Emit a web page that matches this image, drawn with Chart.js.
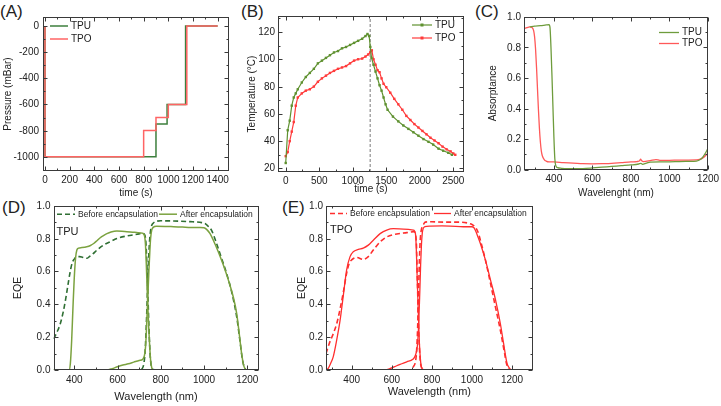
<!DOCTYPE html>
<html>
<head>
<meta charset="utf-8">
<script src="https://cdn.jsdelivr.net/npm/chart.js@4.4.0/dist/chart.umd.min.js"></script>
<style>
  html, body { margin: 0; padding: 0; background: #fff; }
  body { width: 721px; height: 406px; position: relative; overflow: hidden; font-family: "Liberation Sans", Arial, sans-serif; }
  canvas { position: absolute; }
  .tag { position: absolute; font-size: 17px; line-height: 17px; color: #222; }
  .ylab { position: absolute; font-size: 10px; line-height: 12px; color: #222; white-space: nowrap; transform: translate(-100%, -50%); z-index: 5; }
</style>
</head>
<body>
<div class="tag" style="left:0px;top:3px">(A)</div>
<div class="tag" style="left:241px;top:3px">(B)</div>
<div class="tag" style="left:475px;top:3px">(C)</div>
<div class="tag" style="left:2px;top:199px">(D)</div>
<div class="tag" style="left:282px;top:199px">(E)</div>
<canvas id="chartA"></canvas>
<canvas id="chartB"></canvas>
<canvas id="chartC"></canvas>
<canvas id="chartD"></canvas>
<canvas id="chartE"></canvas>
<script>
// (A) pressure steps, value holds until next time
const tpuStepTime = [0, 0, 900, 990, 1140, 1400];
const tpuPressure = [0, -1000, -750, -600, 0, 0];
const tpoStepTime = [0, 0, 800, 900, 1000, 1150, 1400];
const tpoPressure = [0, -1000, -800, -700, -600, 0, 0];
const pressureTicks = [-1000, -800, -600, -400, -200, 0];
const timeTicksA = [0, 200, 400, 600, 800, 1000, 1200, 1400];

// (B) temperature
const tpuTime = [0, 30, 60, 90, 120, 150, 180, 240, 300, 360, 420, 480, 540, 600, 660, 720, 780, 840, 900, 960, 1020, 1080, 1140, 1190, 1220, 1245, 1262, 1280, 1310, 1340, 1370, 1400, 1430, 1460, 1490, 1520, 1600, 1680, 1755, 1830, 1905, 1980, 2055, 2130, 2200, 2280, 2350, 2425, 2480];
const tpuTemp = [24, 48, 55, 66, 72, 75, 78, 83, 87, 90, 93, 97, 99, 101, 103, 105, 106, 108, 109, 110.5, 112, 113.5, 115, 117, 118.5, 117, 109, 101, 96, 91, 86, 81, 77, 72, 67, 63, 58, 54.5, 51.5, 49, 46.5, 44, 41.5, 39.5, 37.5, 34.5, 33, 31.5, 30];
const tpoTime = [0, 30, 60, 90, 120, 150, 180, 240, 300, 360, 420, 480, 540, 600, 660, 720, 780, 840, 900, 960, 1020, 1080, 1140, 1190, 1230, 1260, 1285, 1310, 1340, 1370, 1400, 1430, 1460, 1500, 1560, 1620, 1680, 1740, 1800, 1860, 1920, 1980, 2040, 2100, 2160, 2220, 2280, 2340, 2400, 2460, 2500, 2530];
const tpoTemp = [29, 32, 40, 47, 54, 66, 72, 75, 77, 78, 80, 83.5, 86, 88, 90, 91.5, 93, 94, 95, 97, 99, 100, 100.5, 102, 103.5, 105, 106.5, 100, 96, 92, 90.5, 86, 82, 79.5, 75.5, 71, 67, 63, 58.5, 55.5, 52.5, 50, 47.5, 45, 42.5, 40.5, 38.5, 36, 34, 32.5, 31, 30];
const heatingEnd = 1260;
const tempTicks = [20, 40, 60, 80, 100, 120];
const timeTicksB = [0, 500, 1000, 1500, 2000, 2500];

// (C) absorptance
const tpuAbsWl = [275, 300, 330, 360, 375, 380, 385, 390, 395, 400, 405, 410, 420, 440, 470, 500, 550, 600, 650, 700, 750, 800, 840, 852, 860, 880, 900, 950, 1000, 1050, 1100, 1140, 1160, 1175, 1190, 1200];
const tpuAbs = [0.935, 0.94, 0.943, 0.948, 0.95, 0.93, 0.8, 0.62, 0.42, 0.22, 0.07, 0.025, 0.012, 0.008, 0.005, 0.005, 0.006, 0.01, 0.015, 0.02, 0.025, 0.03, 0.036, 0.04, 0.034, 0.042, 0.048, 0.05, 0.05, 0.052, 0.053, 0.055, 0.065, 0.085, 0.115, 0.14];
const tpoAbsWl = [245, 260, 275, 288, 295, 300, 305, 310, 315, 320, 325, 330, 335, 340, 350, 360, 375, 400, 450, 500, 550, 600, 650, 700, 750, 800, 830, 845, 850, 856, 865, 900, 930, 950, 1000, 1050, 1100, 1140, 1160, 1175, 1190, 1200];
const tpoAbs = [0.925, 0.93, 0.935, 0.93, 0.91, 0.87, 0.79, 0.67, 0.53, 0.39, 0.27, 0.18, 0.12, 0.09, 0.065, 0.055, 0.05, 0.05, 0.045, 0.042, 0.038, 0.037, 0.038, 0.04, 0.045, 0.05, 0.052, 0.057, 0.068, 0.058, 0.052, 0.058, 0.065, 0.06, 0.06, 0.062, 0.062, 0.063, 0.068, 0.078, 0.095, 0.108];
const unitTicks = [0, 0.2, 0.4, 0.6, 0.8, 1.0];
const wlTicks = [400, 600, 800, 1000, 1200];

// (D) TPU EQE, top and bottom subcells
const dBeforeTopWl = [305, 320, 335, 350, 360, 370, 380, 390, 400, 412, 425, 440, 458, 470, 485, 505, 535, 565, 597, 640, 690, 715, 725, 731, 736, 741, 746, 751, 757, 765, 780, 1200];
const dBeforeTop = [0.19, 0.23, 0.28, 0.36, 0.43, 0.51, 0.59, 0.65, 0.675, 0.69, 0.69, 0.685, 0.68, 0.69, 0.705, 0.73, 0.76, 0.78, 0.8, 0.815, 0.826, 0.832, 0.825, 0.78, 0.64, 0.44, 0.24, 0.09, 0.02, 0.003, 0, 0];
const dAfterTopWl = [305, 376, 382, 388, 394, 400, 406, 412, 420, 435, 458, 475, 490, 505, 520, 535, 551, 570, 597, 620, 643, 670, 695, 715, 724, 729, 733, 737, 741, 745, 749, 753, 758, 766, 800, 1200];
const dAfterTop = [0, 0, 0.04, 0.18, 0.38, 0.56, 0.68, 0.73, 0.742, 0.745, 0.75, 0.758, 0.77, 0.787, 0.805, 0.818, 0.83, 0.84, 0.846, 0.845, 0.842, 0.839, 0.836, 0.833, 0.82, 0.77, 0.65, 0.5, 0.36, 0.24, 0.14, 0.06, 0.015, 0, 0, 0];
const dBeforeBotWl = [305, 700, 715, 722, 727, 731, 735, 739, 743, 747, 752, 758, 766, 780, 800, 860, 935, 990, 1005, 1015, 1035, 1058, 1081, 1104, 1127, 1151, 1166, 1178, 1189, 1197, 1205];
const dBeforeBot = [0, 0, 0.01, 0.04, 0.1, 0.2, 0.34, 0.5, 0.65, 0.76, 0.84, 0.88, 0.895, 0.905, 0.908, 0.907, 0.903, 0.897, 0.892, 0.88, 0.85, 0.77, 0.68, 0.59, 0.48, 0.325, 0.18, 0.06, 0.01, 0, 0];
const dAfterBotWl = [305, 550, 575, 600, 625, 650, 675, 700, 717, 724, 729, 733, 737, 741, 745, 749, 753, 758, 765, 780, 820, 860, 900, 940, 980, 1000, 1012, 1028, 1043, 1066, 1089, 1112, 1135, 1151, 1163, 1174, 1184, 1192, 1200];
const dAfterBot = [0, 0, 0.008, 0.02, 0.03, 0.038, 0.048, 0.058, 0.066, 0.085, 0.13, 0.22, 0.35, 0.47, 0.6, 0.71, 0.8, 0.85, 0.868, 0.875, 0.874, 0.872, 0.87, 0.868, 0.867, 0.866, 0.856, 0.83, 0.79, 0.72, 0.64, 0.55, 0.446, 0.345, 0.22, 0.1, 0.025, 0.005, 0];

// (E) TPO EQE
const eBeforeTopWl = [272, 288, 308, 325, 342, 358, 375, 388, 400, 425, 458, 483, 508, 542, 575, 625, 675, 712, 722, 728, 735, 742, 750, 760, 800, 1200];
const eBeforeTop = [0.1, 0.16, 0.22, 0.28, 0.37, 0.47, 0.59, 0.65, 0.67, 0.685, 0.673, 0.69, 0.73, 0.78, 0.81, 0.828, 0.836, 0.842, 0.79, 0.53, 0.22, 0.06, 0.01, 0, 0, 0];
const eAfterTopWl = [272, 283, 295, 308, 325, 342, 358, 375, 392, 408, 433, 458, 483, 508, 542, 575, 608, 658, 708, 718, 722, 725, 729, 732, 735, 738, 742, 746, 752, 762, 800, 1200];
const eAfterTop = [0, 0.01, 0.04, 0.08, 0.18, 0.3, 0.45, 0.61, 0.69, 0.72, 0.734, 0.742, 0.76, 0.79, 0.83, 0.852, 0.86, 0.858, 0.852, 0.83, 0.75, 0.63, 0.48, 0.365, 0.26, 0.16, 0.08, 0.03, 0.008, 0, 0, 0];
const eBeforeBotWl = [272, 690, 708, 718, 723, 728, 732, 735, 738, 742, 747, 752, 760, 767, 800, 858, 942, 992, 1005, 1017, 1030, 1042, 1067, 1092, 1117, 1142, 1163, 1172, 1180, 1192];
const eBeforeBot = [0, 0, 0.02, 0.05, 0.1, 0.22, 0.38, 0.53, 0.67, 0.79, 0.85, 0.872, 0.89, 0.9, 0.902, 0.9, 0.9, 0.89, 0.882, 0.87, 0.84, 0.79, 0.67, 0.53, 0.385, 0.24, 0.1, 0.04, 0.01, 0];
const eAfterBotWl = [272, 560, 590, 625, 650, 675, 705, 718, 728, 735, 740, 744, 748, 752, 757, 765, 792, 850, 892, 958, 1000, 1010, 1017, 1030, 1042, 1067, 1092, 1117, 1142, 1158, 1175, 1185, 1192, 1208];
const eAfterBot = [0, 0, 0.008, 0.026, 0.038, 0.05, 0.065, 0.09, 0.15, 0.3, 0.48, 0.64, 0.76, 0.83, 0.862, 0.872, 0.876, 0.877, 0.876, 0.872, 0.872, 0.866, 0.85, 0.81, 0.77, 0.67, 0.55, 0.43, 0.28, 0.16, 0.04, 0.015, 0.005, 0];

const FONT = '"Liberation Sans", Arial, Helvetica, sans-serif';
Chart.defaults.font.family = FONT;
Chart.defaults.color = '#222';

function pts(xs, ys) {
    return xs.map((x, i) => ({ x: x, y: ys[i] }));
}

// box around the plot plus inward major/minor ticks on all four sides
const frameTicks = {
    id: 'frameTicks',
    afterDraw(chart) {
        const { ctx, chartArea: a, scales } = chart;
        const L = Math.round(a.left) + 0.5, R = Math.round(a.right) - 0.5;
        const T = Math.round(a.top) + 0.5, B = Math.round(a.bottom) - 0.5;
        ctx.save();
        ctx.strokeStyle = '#3a3a3a';
        ctx.lineWidth = 1;
        ctx.strokeRect(L, T, R - L, B - T);
        ctx.beginPath();
        ['x', 'y'].forEach(id => {
            const s = scales[id];
            const majors = s.ticks.map(t => t.value);
            const step = majors[1] - majors[0];
            const minors = [majors[0] - step / 2].concat(majors.map(v => v + step / 2))
                .filter(v => v >= s.min && v <= s.max);
            [[majors, 4], [minors, 2]].forEach(([vals, len]) => {
                vals.forEach(v => {
                    const p = Math.round(s.getPixelForValue(v)) + 0.5;
                    if (id === 'x') {
                        ctx.moveTo(p, B); ctx.lineTo(p, B - len);
                        ctx.moveTo(p, T); ctx.lineTo(p, T + len);
                    } else {
                        ctx.moveTo(L, p); ctx.lineTo(L + len, p);
                        ctx.moveTo(R, p); ctx.lineTo(R - len, p);
                    }
                });
            });
        });
        ctx.stroke();
        ctx.restore();
    }
};

// legend drawn inside the plot like the original
const panelLegend = {
    id: 'panelLegend',
    afterDraw(chart, args, o) {
        if (!o || !o.items) return;
        const { ctx, chartArea: a } = chart;
        ctx.save();
        ctx.textBaseline = 'middle';
        ctx.textAlign = 'left';
        ctx.font = o.size + 'px ' + FONT;
        o.items.forEach(it => {
            const ds = chart.data.datasets[it.ds];
            const x0 = a.left + it.x, y0 = a.top + it.y;
            ctx.strokeStyle = ds.borderColor;
            ctx.lineWidth = ds.borderWidth;
            ctx.setLineDash(ds.borderDash || []);
            ctx.beginPath();
            ctx.moveTo(x0, y0);
            ctx.lineTo(x0 + o.lineLen, y0);
            ctx.stroke();
            ctx.setLineDash([]);
            if (o.marker) {
                ctx.fillStyle = ds.borderColor;
                ctx.fillRect(x0 + o.lineLen / 2 - 1.5, y0 - 1.5, 3, 3);
            }
            ctx.fillStyle = '#222';
            ctx.fillText(ds.label, x0 + o.lineLen + o.gap, y0);
        });
        if (o.note) {
            ctx.font = o.note.size + 'px ' + FONT;
            ctx.fillStyle = '#222';
            ctx.fillText(o.note.text, a.left + o.note.x, a.top + o.note.y);
        }
        ctx.restore();
    }
};

// y tick labels as page text, placed from the chart's own y scale
function placeYLabels(chart, cLeft, cTop, pad) {
    const s = chart.scales.y, a = chart.chartArea;
    s.ticks.forEach(t => {
        const d = document.createElement('div');
        d.className = 'ylab';
        d.textContent = t.label;
        d.style.left = (cLeft + a.left - pad) + 'px';
        d.style.top = (cTop + s.getPixelForValue(t.value)) + 'px';
        document.body.appendChild(d);
    });
}

function makePanel(id, p) {
    const yLh = p.yTitleSize * 1.2, xLh = p.xTitleSize * 1.2;
    const cLeft = Math.round(p.yTitleX - yLh / 2);
    const cBottom = Math.round(p.xTitleY + xLh / 2);
    const cTop = Math.floor(p.frame.t - 10);
    const cRight = Math.ceil(p.frame.r + 18);
    const cv = document.getElementById(id);
    cv.width = cRight - cLeft;
    cv.height = cBottom - cTop;
    cv.style.left = cLeft + 'px';
    cv.style.top = cTop + 'px';
    const yW = p.frame.l - cLeft, xH = cBottom - p.frame.b;

    const chart = new Chart(cv, {
        type: 'line',
        data: { datasets: p.datasets },
        options: {
            responsive: false,
            animation: false,
            layout: { padding: { top: p.frame.t - cTop, right: cRight - p.frame.r, left: 0, bottom: 0 } },
            elements: { point: { radius: 0 } },
            plugins: {
                legend: { display: false },
                tooltip: { enabled: false },
                panelLegend: p.legend || {}
            },
            scales: {
                x: {
                    type: 'linear', position: 'bottom', min: p.xRange[0], max: p.xRange[1],
                    afterBuildTicks: s => { s.ticks = p.xTicks.map(v => ({ value: v })); },
                    afterFit: s => { s.height = xH; },
                    grid: { display: false, drawTicks: false }, border: { display: false },
                    ticks: { font: { size: 10 }, padding: p.xPad, autoSkip: false, maxRotation: 0, callback: v => String(v) },
                    title: { display: true, text: p.xTitle, font: { size: p.xTitleSize }, padding: 0 }
                },
                y: {
                    type: 'linear', position: 'left', min: p.yRange[0], max: p.yRange[1],
                    afterBuildTicks: s => { s.ticks = p.yTicks.map(v => ({ value: v })); },
                    afterFit: s => { s.width = yW; },
                    grid: { display: false, drawTicks: false }, border: { display: false },
                    ticks: { display: false, autoSkip: false, callback: p.yFmt || (v => String(v)) },
                    title: { display: true, text: p.yTitle, font: { size: p.yTitleSize }, padding: 0 }
                }
            }
        },
        plugins: [frameTicks, panelLegend]
    });
    placeYLabels(chart, cLeft, cTop, p.yPad);
    return chart;
}

const oneDecimal = v => v.toFixed(1);

// (A)
makePanel('chartA', {
    frame: { l: 43, t: 17, r: 229, b: 171 },
    xRange: [-16, 1492], yRange: [-1109, 69],
    xTicks: timeTicksA, yTicks: pressureTicks,
    xTitle: 'time (s)', yTitle: 'Pressure (mBar)',
    xTitleSize: 10, yTitleSize: 10, yTitleX: 8, xTitleY: 193, xPad: 3, yPad: 4,
    datasets: [
        { label: 'TPU', data: pts(tpuStepTime, tpuPressure), stepped: true, borderColor: '#3d7f3d', borderWidth: 1.5, order: 1 },
        { label: 'TPO', data: pts(tpoStepTime, tpoPressure), stepped: true, borderColor: '#ff6464', borderWidth: 1.5, order: 0 }
    ],
    legend: { size: 10, lineLen: 18, gap: 3, items: [{ ds: 0, x: 7, y: 9 }, { ds: 1, x: 7, y: 22 }] }
});

// (B)
makePanel('chartB', {
    frame: { l: 278, t: 16, r: 464, b: 172 },
    xRange: [-115, 2660], yRange: [17.4, 131.7],
    xTicks: timeTicksB, yTicks: tempTicks,
    xTitle: 'time (s)', yTitle: 'Temperature (\u00B0C)',
    xTitleSize: 10, yTitleSize: 10, yTitleX: 252, xTitleY: 189, xPad: 3, yPad: 3,
    datasets: [
        { label: 'TPU', data: pts(tpuTime, tpuTemp), borderColor: '#5f9130', backgroundColor: '#5f9130', borderWidth: 1.2,
          pointStyle: 'rect', pointRadius: 1.7, pointBorderWidth: 0 },
        { label: 'TPO', data: pts(tpoTime, tpoTemp), borderColor: '#ff3b3b', backgroundColor: '#ff3b3b', borderWidth: 1.2,
          pointStyle: 'rect', pointRadius: 1.7, pointBorderWidth: 0 },
        { label: 'end of heating', data: [{ x: heatingEnd, y: 17.4 }, { x: heatingEnd, y: 131.7 }],
          borderColor: '#7a7a7a', borderWidth: 1, borderDash: [3, 2] }
    ],
    legend: { size: 10, lineLen: 20, gap: 3, marker: true, items: [{ ds: 0, x: 134, y: 9 }, { ds: 1, x: 134, y: 22 }] }
});

// (C)
makePanel('chartC', {
    frame: { l: 524, t: 17, r: 708, b: 169.5 },
    xRange: [245, 1200], yRange: [0, 1],
    xTicks: wlTicks, yTicks: unitTicks,
    xTitle: 'Wavelenght (nm)', yTitle: 'Absorptance',
    xTitleSize: 10, yTitleSize: 10, yTitleX: 493, xTitleY: 193, xPad: 4, yPad: 3, yFmt: oneDecimal,
    datasets: [
        { label: 'TPU', data: pts(tpuAbsWl, tpuAbs), borderColor: '#6e9c3c', borderWidth: 1.3, cubicInterpolationMode: 'monotone' },
        { label: 'TPO', data: pts(tpoAbsWl, tpoAbs), borderColor: '#ff5858', borderWidth: 1.3, cubicInterpolationMode: 'monotone' }
    ],
    legend: { size: 10, lineLen: 20, gap: 3, items: [{ ds: 0, x: 135, y: 15.5 }, { ds: 1, x: 135, y: 26.5 }] }
});

// (D)
const dBefore = '#2f6f33', dAfter = '#7ba23f';
makePanel('chartD', {
    frame: { l: 53.5, t: 205.7, r: 258.5, b: 370 },
    xRange: [304, 1252], yRange: [0, 1],
    xTicks: wlTicks, yTicks: unitTicks,
    xTitle: 'Wavelength (nm)', yTitle: 'EQE',
    xTitleSize: 11, yTitleSize: 10.5, yTitleX: 18, xTitleY: 397, xPad: 4, yPad: 3, yFmt: oneDecimal,
    datasets: [
        { label: 'Before encapsulation', data: pts(dBeforeTopWl, dBeforeTop), borderColor: dBefore, borderWidth: 1.6, borderDash: [5, 3], cubicInterpolationMode: 'monotone', order: 1 },
        { label: 'After encapsulation', data: pts(dAfterTopWl, dAfterTop), borderColor: dAfter, borderWidth: 1.5, cubicInterpolationMode: 'monotone', order: 0 },
        { label: 'Before encapsulation', data: pts(dBeforeBotWl, dBeforeBot), borderColor: dBefore, borderWidth: 1.6, borderDash: [5, 3], cubicInterpolationMode: 'monotone', order: 1 },
        { label: 'After encapsulation', data: pts(dAfterBotWl, dAfterBot), borderColor: dAfter, borderWidth: 1.5, cubicInterpolationMode: 'monotone', order: 0 }
    ],
    legend: { size: 8.5, lineLen: 18, gap: 3, items: [{ ds: 0, x: 3.5, y: 8.5 }, { ds: 1, x: 105.5, y: 8.5 }],
              note: { text: 'TPU', size: 11, x: 3, y: 26.5 } }
});

// (E)
const eColor = '#ff2e2e';
makePanel('chartE', {
    frame: { l: 326, t: 205.7, r: 532.7, b: 370 },
    xRange: [272, 1303], yRange: [0, 1],
    xTicks: wlTicks, yTicks: unitTicks,
    xTitle: 'Wavelength (nm)', yTitle: 'EQE',
    xTitleSize: 11, yTitleSize: 10.5, yTitleX: 302, xTitleY: 392, xPad: 4, yPad: 3, yFmt: oneDecimal,
    datasets: [
        { label: 'Before encapsulation', data: pts(eBeforeTopWl, eBeforeTop), borderColor: eColor, borderWidth: 1.6, borderDash: [5, 3], cubicInterpolationMode: 'monotone', order: 1 },
        { label: 'After encapsulation', data: pts(eAfterTopWl, eAfterTop), borderColor: eColor, borderWidth: 1.3, cubicInterpolationMode: 'monotone', order: 0 },
        { label: 'Before encapsulation', data: pts(eBeforeBotWl, eBeforeBot), borderColor: eColor, borderWidth: 1.6, borderDash: [5, 3], cubicInterpolationMode: 'monotone', order: 1 },
        { label: 'After encapsulation', data: pts(eAfterBotWl, eAfterBot), borderColor: eColor, borderWidth: 1.3, cubicInterpolationMode: 'monotone', order: 0 }
    ],
    legend: { size: 8.5, lineLen: 17, gap: 3, items: [{ ds: 0, x: 4, y: 7.8 }, { ds: 1, x: 108, y: 7.8 }],
              note: { text: 'TPO', size: 11, x: 4, y: 24.5 } }
});
</script>
</body>
</html>
